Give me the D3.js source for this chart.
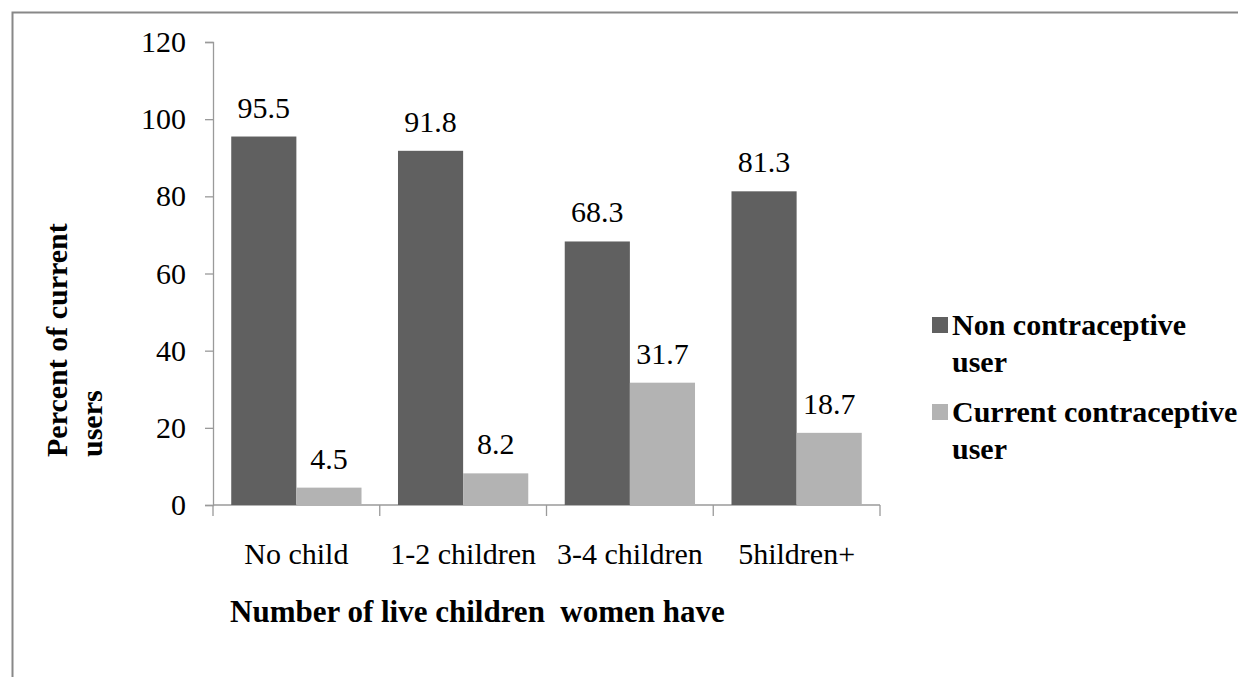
<!DOCTYPE html>
<html>
<head>
<meta charset="utf-8">
<script src="https://cdn.jsdelivr.net/npm/d3@7"></script>
<style>
  body { margin: 0; background: #fff; }
  svg text { font-family: "Liberation Serif", serif !important; fill: #000; }
</style>
</head>
<body>
<svg id="chart" width="1238" height="677"></svg>
<script>
// data
const categories = ["No child", "1-2 children", "3-4 children", "5hildren+"];
const seriesNames = ["Non contraceptive user", "Current contraceptive user"];
const nonUsers = [95.5, 91.8, 68.3, 81.3];
const currentUsers = [4.5, 8.2, 31.7, 18.7];
const yTicks = [0, 20, 40, 60, 80, 100, 120];

const colors = ["#606060", "#b3b3b3"];
const axisColor = "#9a9a9a";
const serif = "Liberation Serif";

const svg = d3.select("#chart");

// outer chart border (runs off the right / bottom of the picture)
svg.append("rect")
  .attr("x", 12.5).attr("y", 12.5)
  .attr("width", 1400).attr("height", 800)
  .attr("fill", "none")
  .attr("stroke", "#888")
  .attr("stroke-width", 2);

// plot area
const plot = { left: 213, right: 880, top: 42, bottom: 505 };

const x = d3.scaleBand()
  .domain(categories)
  .range([plot.left, plot.right]);

const inner = d3.scaleBand()
  .domain([0, 1])
  .range([0, x.bandwidth()])
  .paddingInner(0)
  .paddingOuter(0.28);

const y = d3.scaleLinear()
  .domain([0, 120])
  .range([plot.bottom, plot.top]);

// Y axis
const yAxis = svg.append("g")
  .attr("transform", `translate(${plot.left},0)`)
  .call(d3.axisLeft(y).tickValues(yTicks).tickSize(8).tickPadding(19));
yAxis.attr("font-family", serif);
yAxis.select(".domain").attr("stroke", axisColor).attr("stroke-width", 1.3);
yAxis.selectAll(".tick line").attr("stroke", axisColor).attr("stroke-width", 1.3);
yAxis.selectAll(".tick text")
  .attr("font-size", 30)
  .attr("font-family", serif)
  .attr("fill", "#000");

// X axis line + boundary ticks
const xAxisG = svg.append("g");
xAxisG.append("line")
  .attr("x1", plot.left).attr("x2", plot.right)
  .attr("y1", plot.bottom).attr("y2", plot.bottom)
  .attr("stroke", axisColor).attr("stroke-width", 1.3);

const boundaries = categories.map(c => x(c)).concat([plot.right]);
xAxisG.selectAll(".xtick")
  .data(boundaries)
  .enter()
  .append("line")
    .attr("class", "xtick")
    .attr("x1", d => d).attr("x2", d => d)
    .attr("y1", plot.bottom).attr("y2", plot.bottom + 11)
    .attr("stroke", axisColor).attr("stroke-width", 1.3);

xAxisG.selectAll(".xlabel")
  .data(categories)
  .enter()
  .append("text")
    .attr("class", "xlabel")
    .attr("x", d => x(d) + x.bandwidth() / 2)
    .attr("y", 564)
    .attr("text-anchor", "middle")
    .attr("font-family", serif)
    .attr("font-size", 30)
    .text(d => d);

// bars + value labels
const series = [nonUsers, currentUsers];
series.forEach((vals, s) => {
  const g = svg.append("g");
  g.selectAll("rect")
    .data(vals)
    .enter()
    .append("rect")
      .attr("x", (d, i) => x(categories[i]) + inner(s))
      .attr("width", inner.bandwidth())
      .attr("y", d => y(d))
      .attr("height", d => y(0) - y(d))
      .attr("fill", colors[s]);

  g.selectAll("text")
    .data(vals)
    .enter()
    .append("text")
      .attr("x", (d, i) => x(categories[i]) + inner(s) + inner.bandwidth() / 2)
      .attr("y", d => y(d) - 19)
      .attr("text-anchor", "middle")
      .attr("font-family", serif)
      .attr("font-size", 30)
      .text(d => d.toFixed(1));
});

// Y axis title (two lines, rotated)
const yTitle = svg.append("text")
  .attr("transform", "translate(67,457) rotate(-90)")
  .attr("font-family", serif)
  .attr("font-size", 30)
  .attr("font-weight", "bold");
yTitle.append("tspan").attr("x", 0).attr("y", 0).text("Percent of current");
yTitle.append("tspan").attr("x", 0).attr("y", 35).text("users");

// X axis title
svg.append("text")
  .attr("x", 230)
  .attr("y", 622)
  .attr("font-family", serif)
  .attr("font-size", 31)
  .attr("font-weight", "bold")
  .text("Number of live children\u00a0 women have");

// legend
const legendLines = [["Non contraceptive", "user"], ["Current contraceptive", "user"]];
const legendTop = [335, 422];
legendLines.forEach((lines, i) => {
  svg.append("rect")
    .attr("x", 932)
    .attr("y", legendTop[i] - 18)
    .attr("width", 16).attr("height", 16)
    .attr("fill", colors[i]);
  const t = svg.append("text")
    .attr("font-family", serif)
    .attr("font-size", 30)
    .attr("font-weight", "bold");
  lines.forEach((ln, j) => {
    t.append("tspan")
      .attr("x", 952)
      .attr("y", legendTop[i] + j * 37)
      .text(ln);
  });
});
</script>
</body>
</html>
